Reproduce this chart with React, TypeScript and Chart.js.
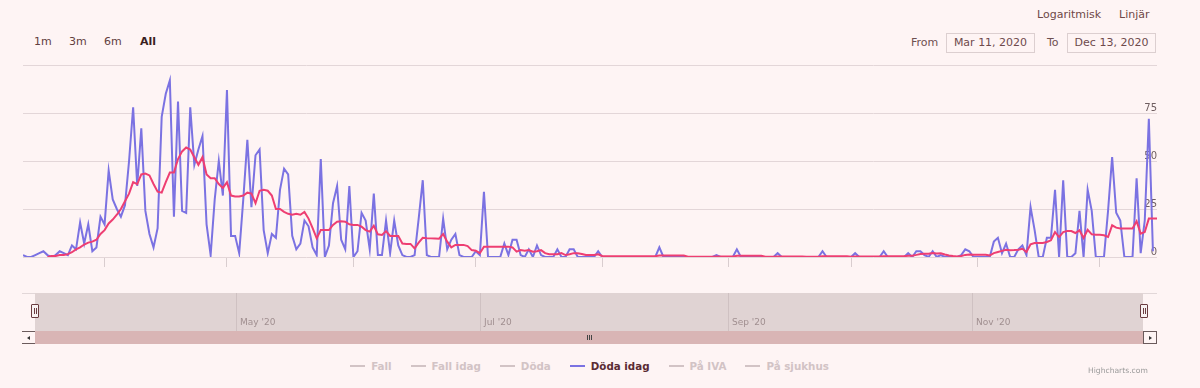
import React, { useEffect, useRef } from 'react';
import { Chart, registerables } from 'chart.js';

Chart.register(...registerables);

// ---------- data ----------
const START_DATE = '2020-03-12';

// Döda idag (daily reported deaths), one value per day from START_DATE
const dodaIdag: number[] = [
  1, 0, 0, 1, 2, 3, 1, 0, 1, 3,
  2, 1, 6, 4, 18, 7, 17, 3, 5, 21,
  17, 45, 30, 25, 21, 27, 50, 78, 37, 67,
  24, 12, 5, 15, 73, 85, 92, 21, 81, 24,
  23, 78, 48, 56, 63, 17, 1, 30, 50, 32,
  87, 11, 11, 2, 30, 61, 26, 53, 56, 14,
  2, 12, 10, 35, 46, 43, 11, 4, 7, 19,
  16, 5, 1, 51, 0, 6, 28, 37, 9, 4,
  37, 0, 3, 23, 19, 4, 33, 1, 1, 19,
  2, 19, 6, 1, 0, 0, 1, 20, 40, 1,
  0, 0, 0, 20, 4, 9, 12, 1, 0, 0,
  0, 3, 1, 34, 0, 0, 0, 0, 7, 1,
  9, 9, 1, 0, 4, 0, 6, 1, 0, 0,
  0, 4, 0, 0, 4, 4, 0, 0, 0, 0,
  0, 3, 0, 0, 0, 0, 0, 0, 0, 0,
  0, 0, 0, 0, 0, 0, 5, 0, 0, 0,
  0, 0, 0, 0, 0, 0, 0, 0, 0, 0,
  1, 0, 0, 0, 0, 4, 0, 0, 0, 0,
  0, 0, 0, 0, 0, 2, 0, 0, 0, 0,
  0, 0, 0, 0, 0, 0, 3, 0, 0, 0,
  0, 0, 0, 0, 2, 0, 0, 0, 0, 0,
  0, 3, 0, 0, 0, 0, 0, 2, 0, 3,
  3, 1, 0, 3, 0, 1, 0, 0, 0, 0,
  1, 4, 3, 0, 0, 0, 0, 0, 8, 10,
  2, 7, 0, 0, 4, 6, 1, 26, 14, 0,
  0, 10, 10, 35, 0, 40, 0, 0, 2, 24,
  0, 35, 24, 0, 0, 0, 24, 52, 23, 19,
  0, 0, 0, 41, 2, 19, 72, 3,
];

// rolling average line (pink)
const dodaIdagMedel: (number | null)[] = [
  null, null, null, null, null, null, 0, 0.5, 0.5, 1,
  1, 1.5, 2.5, 4, 5, 6.5, 7.5, 8, 9, 12,
  14, 17.5, 19.5, 22, 25, 29, 33, 39, 38, 43,
  43.5, 42.5, 38, 34, 33.5, 39, 44, 44, 51, 55,
  57, 56, 52, 48, 52, 43, 41, 41, 38, 36,
  39, 32, 31.5, 31.5, 32, 33.5, 33, 28, 34.5, 35,
  34.5, 32, 25, 25, 23.5, 22.5, 22, 22.5, 22, 23.5,
  20, 15, 9.7, 14, 14, 14, 16.7, 18.4, 18.6, 18.4,
  17, 16.7, 16.7, 15.8, 14, 13.2, 16.3, 11.8, 11.5, 13.5,
  11, 11, 11, 7, 6.8, 6.8, 4.5, 7.5, 10, 9.8,
  9.7, 9.6, 9.5, 12, 8, 5, 6.3, 6.3, 6.3, 5.7,
  3.6, 3.3, 2, 5.4, 5.4, 5.4, 5.4, 5.4, 5.4, 5.4,
  5, 2.8, 3.6, 3.3, 3.6, 2.8, 3, 3.6, 2, 1.4,
  1.4, 1.4, 2, 1, 1.4, 2, 2, 1.6, 1, 1,
  1, 1.4, 0.5, 0.4, 0.4, 0.4, 0.4, 0.4, 0.4, 0.4,
  0.4, 0.4, 0.4, 0.4, 0.4, 0.4, 0.8, 0.8, 0.8, 0.8,
  0.8, 0.8, 0.8, 0.1, 0.1, 0.1, 0.1, 0.1, 0.1, 0.1,
  0.2, 0.2, 0.2, 0.2, 0.2, 0.6, 0.6, 0.6, 0.6, 0.6,
  0.6, 0.6, 0.1, 0.1, 0.1, 0.3, 0.3, 0.3, 0.3, 0.3,
  0.3, 0.3, 0.1, 0.1, 0.1, 0.1, 0.4, 0.4, 0.4, 0.4,
  0.4, 0.4, 0.4, 0.1, 0.3, 0.3, 0.3, 0.3, 0.3, 0.3,
  0.3, 0.4, 0.4, 0.4, 0.4, 0.4, 0.4, 0.7, 0.7, 1.1,
  1.6, 1.7, 1.7, 2.1, 1.8, 1.9, 1.3, 0.8, 0.5, 0.3,
  0.5, 1.1, 1.3, 1.2, 1.2, 1.2, 1.2, 0.8, 2, 2.6,
  3.2, 3.8, 3.5, 3.6, 3.8, 4.3, 2.6, 6.6, 7.3, 7.3,
  7.3, 7.8, 8.7, 13, 10.4, 13, 13.5, 13.5, 12.5, 13.9,
  9.9, 14.2, 11.8, 11.6, 11.6, 11.3, 10.4, 16.5, 15.3, 14.8,
  14.8, 14.8, 14.8, 18.6, 12.2, 13, 20, 20, 20,
];

const yTickValues = [0, 25, 50, 75, 100];
const mainTickDates = [
  '2020-04-01', '2020-05-01', '2020-06-01', '2020-07-01', '2020-08-01',
  '2020-09-01', '2020-10-01', '2020-11-01', '2020-12-01',
];
const navTickDates = ['2020-05-01', '2020-07-01', '2020-09-01', '2020-11-01'];
const navTickLabels = ["May '20", "Jul '20", "Sep '20", "Nov '20"];
const rangeButtons = ['1m', '3m', '6m', 'All'];
const legendItems = ['Fall', 'Fall idag', 'Döda', 'Döda idag', 'På IVA', 'På sjukhus'];
const activeLegend = 'Döda idag';
const fromDate = 'Mar 11, 2020';
const toDate = 'Dec 13, 2020';

// ---------- styling ----------
const FONT = '"DejaVu Sans", Arial, sans-serif';
const BG = '#fef4f4';
const PURPLE = '#7b72e2';
const PINK = '#ee3e72';
const GRID = '#e3d6d8';

const dayIndex = (d: string) =>
  Math.round((Date.parse(d) - Date.parse(START_DATE)) / 86400000);

export default function App() {
  const mainRef = useRef<HTMLCanvasElement>(null);
  const navRef = useRef<HTMLCanvasElement>(null);

  useEffect(() => {
    document.body.style.margin = '0';
    document.body.style.background = BG;

    const mainTicks = mainTickDates.map(dayIndex);
    const navTicks = navTickDates.map(dayIndex);

    const purpleData = dodaIdag.map((v, i) => ({ x: i, y: v }));
    const pinkData = dodaIdagMedel
      .map((v, i) => ({ x: i, y: v }))
      .filter((p) => p.y !== null) as { x: number; y: number }[];

    const main = new Chart(mainRef.current!, {
      type: 'line',
      data: {
        datasets: [
          {
            label: 'Medel',
            data: pinkData,
            borderColor: PINK,
            borderWidth: 2,
            pointRadius: 0,
            tension: 0,
            fill: false,
          },
          {
            label: 'Döda idag',
            data: purpleData,
            borderColor: PURPLE,
            borderWidth: 2,
            pointRadius: 0,
            tension: 0,
            fill: false,
          },
        ],
      },
      options: {
        responsive: false,
        animation: false,
        events: [],
        layout: { padding: { left: 23, right: 43, top: 6, bottom: 13 } },
        plugins: { legend: { display: false }, tooltip: { enabled: false } },
        scales: {
          x: {
            type: 'linear',
            min: 0,
            max: 278,
            afterBuildTicks: (axis: any) => {
              axis.ticks = mainTicks.map((value) => ({ value }));
            },
            ticks: { display: false },
            grid: {
              drawOnChartArea: false,
              drawTicks: true,
              tickLength: 10,
              color: '#d9cdcf',
            },
            border: { display: false },
          },
          y: {
            position: 'right',
            min: 0,
            max: 100,
            afterBuildTicks: (axis: any) => {
              axis.ticks = yTickValues.map((value) => ({ value }));
            },
            ticks: {
              mirror: true,
              padding: 0,
              labelOffset: -5,
              color: '#6f5e60',
              font: { family: FONT, size: 10 },
              callback: (v: any) => (v === 100 ? '' : String(v)),
            },
            grid: { color: GRID, drawTicks: false },
            border: { display: false },
          },
        },
      },
    });

    const navLabels = {
      id: 'navLabels',
      afterDraw(chart: any) {
        const { ctx, chartArea, scales } = chart;
        ctx.save();
        ctx.font = `9px ${FONT}`;
        ctx.fillStyle = '#a08f90';
        ctx.textBaseline = 'middle';
        ctx.textAlign = 'left';
        navTicks.forEach((v, k) => {
          ctx.fillText(navTickLabels[k], scales.x.getPixelForValue(v) + 4, chartArea.bottom - 8);
        });
        ctx.restore();
      },
    };

    const nav = new Chart(navRef.current!, {
      type: 'line',
      data: { datasets: [] },
      options: {
        responsive: false,
        animation: false,
        events: [],
        layout: { padding: { left: 36, right: 56, top: 0, bottom: 0 } },
        plugins: { legend: { display: false }, tooltip: { enabled: false } },
        scales: {
          x: {
            type: 'linear',
            min: 0,
            max: 277,
            afterBuildTicks: (axis: any) => {
              axis.ticks = navTicks.map((value) => ({ value }));
            },
            ticks: { display: false },
            grid: { color: '#cfc1c2', drawTicks: false },
            border: { display: false },
          },
          y: { display: false },
        },
      },
      plugins: [navLabels],
    });

    return () => {
      main.destroy();
      nav.destroy();
    };
  }, []);

  const text = (
    s: string,
    left: number,
    cy: number,
    size: number,
    color: string,
    bold = false,
  ) => (
    <span
      key={s + left}
      style={{
        position: 'absolute',
        left,
        top: cy - 8,
        height: 16,
        lineHeight: '16px',
        fontSize: size,
        fontFamily: FONT,
        color,
        fontWeight: bold ? 'bold' : 'normal',
        whiteSpace: 'nowrap',
      }}
    >
      {s}
    </span>
  );

  const buttonX = [34, 69, 104, 140];

  const box = (s: string, left: number) => (
    <div
      style={{
        position: 'absolute',
        left,
        top: 33,
        width: 89,
        height: 20,
        boxSizing: 'border-box',
        border: '1px solid #dccfd0',
        fontFamily: FONT,
        fontSize: 11,
        color: '#6e4a4c',
        lineHeight: '18px',
        textAlign: 'center',
      }}
    >
      {s}
    </div>
  );

  const handle = (left: number) => (
    <div
      style={{
        position: 'absolute',
        left,
        top: 304,
        width: 8,
        height: 14,
        boxSizing: 'border-box',
        background: '#f7f1f1',
        border: '1px solid #6b3c40',
        borderRadius: 1,
      }}
    >
      <div style={{ position: 'absolute', left: 1.5, top: 3, width: 1, height: 6, background: '#6b3c40' }} />
      <div style={{ position: 'absolute', left: 3.5, top: 3, width: 1, height: 6, background: '#6b3c40' }} />
    </div>
  );

  return (
    <div
      style={{
        position: 'absolute',
        left: 0,
        top: 0,
        width: 1200,
        height: 388,
        background: BG,
        overflow: 'hidden',
      }}
    >
      {/* top-right axis type switch */}
      {text('Logaritmisk', 1037, 14.5, 11, '#6e4848')}
      {text('Linjär', 1119, 14.5, 11, '#6e4848')}

      {/* range selector */}
      {rangeButtons.map((b, k) =>
        text(b, buttonX[k], 42, 11, b === 'All' ? '#3a1e20' : '#62403f', b === 'All'),
      )}
      {text('From', 911, 43, 11, '#6e5050')}
      {box(fromDate, 946)}
      {text('To', 1047, 43, 11, '#6e5050')}
      {box(toDate, 1067)}

      {/* main chart */}
      <canvas
        ref={mainRef}
        width={1200}
        height={221}
        style={{ position: 'absolute', left: 0, top: 59, width: 1200, height: 221 }}
      />

      {/* navigator */}
      <div style={{ position: 'absolute', left: 22, top: 293, width: 1135, height: 1, background: '#e2d7d8' }} />
      <div style={{ position: 'absolute', left: 35, top: 293, width: 1108, height: 38, background: '#e0d3d3' }} />
      <canvas
        ref={navRef}
        width={1200}
        height={38}
        style={{ position: 'absolute', left: 0, top: 293, width: 1200, height: 38 }}
      />
      {handle(31)}
      {handle(1140)}

      {/* scrollbar */}
      <div style={{ position: 'absolute', left: 35, top: 331, width: 1108, height: 13, background: '#d9b5b5' }} />
      <div
        style={{
          position: 'absolute',
          left: 22,
          top: 331,
          width: 13,
          height: 13,
          boxSizing: 'border-box',
          borderTop: '1px solid #6a5a5b',
          borderBottom: '1px solid #6a5a5b',
        }}
      >
        <div
          style={{
            position: 'absolute',
            left: 5,
            top: 3.5,
            width: 0,
            height: 0,
            borderTop: '2.5px solid transparent',
            borderBottom: '2.5px solid transparent',
            borderRight: '3px solid #333',
          }}
        />
      </div>
      <div
        style={{
          position: 'absolute',
          left: 1143,
          top: 331,
          width: 14,
          height: 13,
          boxSizing: 'border-box',
          border: '1px solid #6a5a5b',
        }}
      >
        <div
          style={{
            position: 'absolute',
            left: 5,
            top: 3.5,
            width: 0,
            height: 0,
            borderTop: '2.5px solid transparent',
            borderBottom: '2.5px solid transparent',
            borderLeft: '3px solid #333',
          }}
        />
      </div>
      {[587, 589, 591].map((x) => (
        <div key={x} style={{ position: 'absolute', left: x, top: 335, width: 1, height: 5, background: '#444' }} />
      ))}

      {/* legend */}
      <div
        style={{
          position: 'absolute',
          left: 0,
          width: 1179,
          top: 358,
          height: 16,
          display: 'flex',
          justifyContent: 'center',
          alignItems: 'center',
          gap: 19,
        }}
      >
        {legendItems.map((name) => {
          const on = name === activeLegend;
          const c = on ? '#5a2b33' : '#d2c3c5';
          return (
            <div key={name} style={{ display: 'flex', alignItems: 'center' }}>
              <div style={{ width: 15, height: 2, background: on ? PURPLE : c, marginRight: 6 }} />
              <span style={{ fontFamily: FONT, fontSize: 10.3, fontWeight: 'bold', color: c, whiteSpace: 'nowrap' }}>
                {name}
              </span>
            </div>
          );
        })}
      </div>

      {/* credits */}
      {text('Highcharts.com', 1088, 371, 7.6, '#9a9a9a')}
    </div>
  );
}
